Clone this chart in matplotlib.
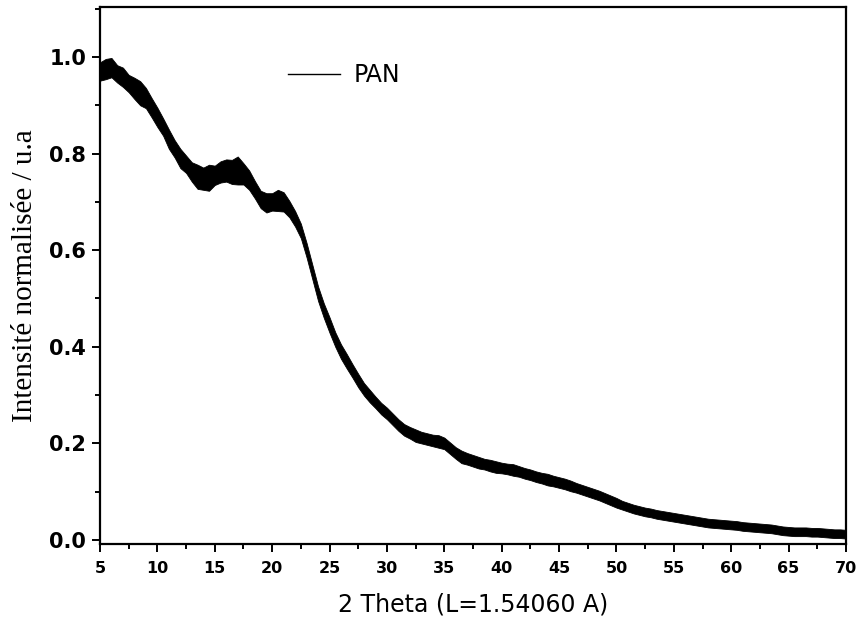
import numpy as np
import matplotlib.pyplot as plt
from matplotlib.ticker import MultipleLocator

# 2 theta grid (degrees) and normalised intensity
theta = [5.0 + 0.5 * i for i in range(131)]
intensity = [
    0.970, 0.975, 0.978, 0.965, 0.958, 0.945, 0.935, 0.925, 0.915, 0.895,
    0.875, 0.855, 0.830, 0.810, 0.790, 0.778, 0.762, 0.752, 0.748, 0.750,
    0.755, 0.762, 0.765, 0.762, 0.765, 0.758, 0.745, 0.725, 0.705, 0.698,
    0.700, 0.703, 0.700, 0.685, 0.665, 0.640, 0.600, 0.555, 0.510, 0.475,
    0.445, 0.415, 0.390, 0.370, 0.350, 0.330, 0.312, 0.298, 0.285, 0.272,
    0.262, 0.250, 0.238, 0.228, 0.222, 0.216, 0.212, 0.209, 0.206, 0.204,
    0.200, 0.190, 0.180, 0.172, 0.168, 0.164, 0.160, 0.157, 0.154, 0.151,
    0.149, 0.147, 0.145, 0.142, 0.138, 0.135, 0.131, 0.128, 0.125, 0.122,
    0.119, 0.116, 0.112, 0.108, 0.104, 0.100, 0.096, 0.092, 0.087, 0.082,
    0.077, 0.072, 0.068, 0.064, 0.061, 0.058, 0.056, 0.053, 0.051, 0.049,
    0.047, 0.045, 0.043, 0.041, 0.039, 0.037, 0.035, 0.034, 0.033, 0.032,
    0.031, 0.030, 0.028, 0.027, 0.026, 0.025, 0.024, 0.023, 0.021, 0.019,
    0.018, 0.017, 0.017, 0.017, 0.016, 0.016, 0.015, 0.014, 0.013, 0.013,
    0.012,
]
# half height of the noise band at each point
spread = [
    0.019, 0.021, 0.020, 0.018, 0.020, 0.018, 0.022, 0.025, 0.021, 0.020,
    0.020, 0.018, 0.020, 0.018, 0.020, 0.018, 0.020, 0.025, 0.023, 0.027,
    0.020, 0.022, 0.023, 0.025, 0.029, 0.022, 0.020, 0.018, 0.018, 0.020,
    0.018, 0.022, 0.020, 0.017, 0.016, 0.015, 0.015, 0.015, 0.015, 0.015,
    0.016, 0.015, 0.015, 0.015, 0.014, 0.014, 0.013, 0.013, 0.012, 0.012,
    0.012, 0.012, 0.012, 0.012, 0.012, 0.013, 0.012, 0.012, 0.012, 0.013,
    0.012, 0.012, 0.012, 0.013, 0.012, 0.012, 0.012, 0.011, 0.012, 0.012,
    0.011, 0.011, 0.012, 0.011, 0.011, 0.011, 0.011, 0.011, 0.012, 0.011,
    0.011, 0.011, 0.011, 0.010, 0.010, 0.010, 0.010, 0.010, 0.010, 0.010,
    0.010, 0.009, 0.009, 0.009, 0.009, 0.009, 0.009, 0.009, 0.009, 0.009,
    0.009, 0.009, 0.009, 0.009, 0.009, 0.009, 0.009, 0.009, 0.009, 0.009,
    0.009, 0.009, 0.009, 0.009, 0.009, 0.009, 0.009, 0.009, 0.009, 0.009,
    0.009, 0.009, 0.009, 0.009, 0.009, 0.009, 0.009, 0.009, 0.009, 0.009,
    0.009,
]

x = np.array(theta)
y = np.array(intensity)
s = np.array(spread)

fig = plt.figure(figsize=(8.59, 6.28), dpi=100)
ax = fig.add_axes([100/859, 84/628, 746/859, 537/628])

ax.fill_between(x, y - s, y + s, color='black', lw=0.6)
ax.plot(x, y, color='black', lw=1.0, label='PAN')

ax.set_xlim(5, 70)
ax.set_ylim(-0.0083, 1.1035)

ax.xaxis.set_major_locator(MultipleLocator(5))
ax.xaxis.set_minor_locator(MultipleLocator(2.5))
ax.yaxis.set_major_locator(MultipleLocator(0.2))
ax.yaxis.set_minor_locator(MultipleLocator(0.1))
ax.yaxis.set_major_formatter(plt.FuncFormatter(lambda v, p: '%.1f' % v))

ax.tick_params(which='major', direction='out', length=6, width=1.4)
ax.tick_params(which='minor', direction='out', length=3.5, width=1.4)
ax.tick_params(axis='x', which='major', pad=6)
ax.tick_params(axis='y', which='major', pad=4)

for lab in ax.get_xticklabels():
    lab.set_family('DejaVu Sans')
    lab.set_fontweight('bold')
    lab.set_fontsize(11.5)
for lab in ax.get_yticklabels():
    lab.set_family('DejaVu Sans')
    lab.set_fontweight('bold')
    lab.set_fontsize(15)

for sp in ax.spines.values():
    sp.set_linewidth(1.6)

ax.set_xlabel('2 Theta (L=1.54060 A)', fontsize=17, family='DejaVu Sans', labelpad=12)
ax.set_ylabel('Intensité normalisée / u.a', fontsize=21, family='Liberation Serif', labelpad=8)

ax.legend(loc='center left', bbox_to_anchor=(0.252, 0.873), frameon=False,
          prop={'family': 'DejaVu Sans', 'size': 17}, handlelength=2.2,
          handletextpad=0.6, borderpad=0, borderaxespad=0)

plt.savefig('out.png', dpi=100)
